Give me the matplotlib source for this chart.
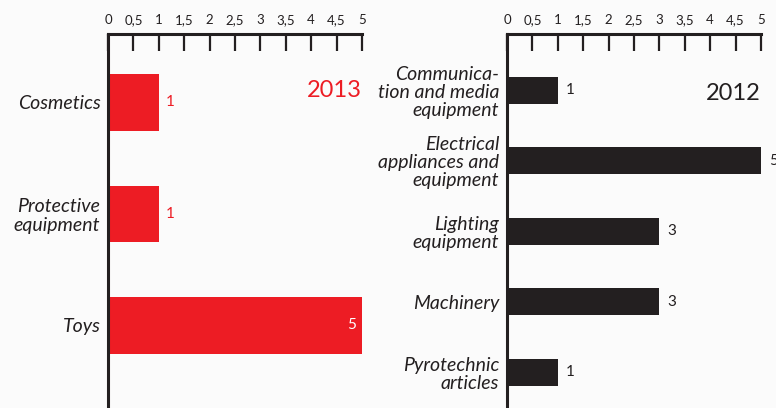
import matplotlib.pyplot as plt
import numpy as np

# Data
cats_2013 = ['Cosmetics', 'Protective\nequipment', 'Toys']
vals_2013 = [1, 1, 5]
cats_2012 = ['Communica-\ntion and media\nequipment', 'Electrical\nappliances and\nequipment',
             'Lighting\nequipment', 'Machinery', 'Pyrotechnic\narticles']
vals_2012 = [1, 5, 3, 3, 1]
xticks = np.arange(0, 5.01, 0.5)
xtick_labels = ['0', '0,5', '1', '1,5', '2', '2,5', '3', '3,5', '4', '4,5', '5']

red = '#ED1C24'
dark = '#231F20'
bg = '#FBFBFB'

plt.rcParams['font.family'] = ['Lato', 'DejaVu Sans']

W, H = 776, 408
fig = plt.figure(figsize=(W / 100, H / 100), dpi=100, facecolor=bg)


def make_axes(x0, x1):
    ax = fig.add_axes([x0 / W, 0, (x1 - x0) / W, 1 - 34 / H], facecolor=bg)
    ax.set_xlim(0, 5)
    ax.set_xticks(xticks)
    ax.set_xticklabels(xtick_labels, fontsize=9.5)
    ax.xaxis.tick_top()
    ax.tick_params(axis='x', direction='in', length=12, width=1.6, pad=6, colors=dark)
    ax.tick_params(axis='y', length=0, pad=5.5)
    for s in ['bottom', 'right']:
        ax.spines[s].set_visible(False)
    for s in ['top', 'left']:
        ax.spines[s].set_linewidth(2.2)
        ax.spines[s].set_color(dark)
    return ax


# 2013 panel
ax1 = make_axes(108, 362)
y1 = np.arange(len(cats_2013))
ax1.barh(y1, vals_2013, height=0.51, color=red)
ax1.set_ylim(2.74, -0.614)
ax1.set_yticks(y1)
ax1.set_yticklabels(cats_2013, fontsize=14, style='italic', color=dark, linespacing=1.08)
for y, v in zip(y1, vals_2013):
    if v >= 5:
        ax1.text(v - 0.12, y, str(v), ha='right', va='center', color='white', fontsize=11)
    else:
        ax1.text(v + 0.22, y, str(v), ha='center', va='center', color=red, fontsize=11)
ax1.text(1.0, 0.85, '2013', transform=ax1.transAxes, ha='right', va='center',
         color=red, fontsize=17)

# 2012 panel
ax2 = make_axes(507, 761)
y2 = np.arange(len(cats_2012))
ax2.barh(y2, vals_2012, height=0.385, color=dark)
ax2.set_ylim(4.51, -0.80)
ax2.set_yticks(y2)
ax2.set_yticklabels(cats_2012, fontsize=14, style='italic', color=dark, linespacing=1.08)
for y, v in zip(y2, vals_2012):
    ax2.text(v + 0.15, y, str(v), ha='left', va='center', color=dark, fontsize=11)
ax2.text(1.0, 0.84, '2012', transform=ax2.transAxes, ha='right', va='center',
         color=dark, fontsize=17)

fig.savefig('out.png', dpi=100, facecolor=bg)
